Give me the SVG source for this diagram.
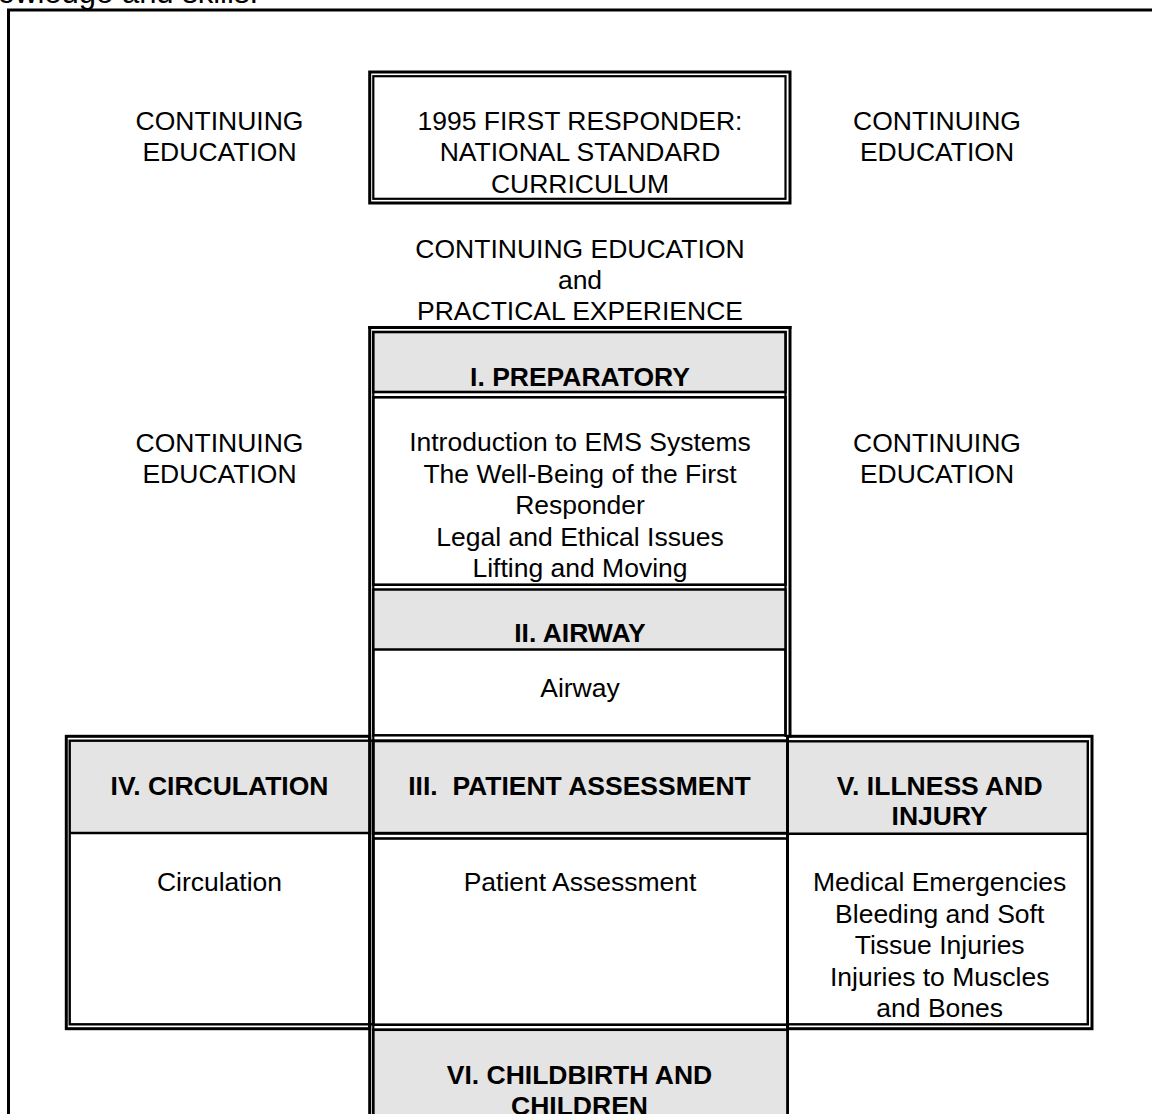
<svg xmlns="http://www.w3.org/2000/svg" width="1152" height="1114" viewBox="0 0 1152 1114">
<style>
.t{font-family:"Liberation Sans",Arial,"Helvetica",sans-serif;font-size:26.5px;text-anchor:middle;fill:#000}
.b{font-weight:bold}
.k{stroke:#000;fill:none}
.o{stroke-width:3}
.i{stroke-width:2.4}
.g{fill:#e4e4e4}
</style>
<rect width="1152" height="1114" fill="#fff"/>
<text class="t" x="258" y="3" style="text-anchor:end;font-size:31px">owledge and skills.</text>
<g id="frame">
<rect class="k o" x="8.5" y="10" width="1170" height="1130"/>
</g>
<g id="title">
<rect class="k o" x="369.7" y="72" width="420.3" height="131"/>
<rect class="k" stroke-width="2.2" x="373.3" y="76.2" width="412.2" height="122.6"/>
<text class="t" x="580" y="130">1995 FIRST RESPONDER:</text>
<text class="t" x="580" y="161">NATIONAL STANDARD</text>
<text class="t" x="580" y="192.5">CURRICULUM</text>
</g>
<g id="ce-top-left"><text class="t" x="219.5" y="130">CONTINUING</text><text class="t" x="219.5" y="161">EDUCATION</text></g>
<g id="ce-top-right"><text class="t" x="937" y="130">CONTINUING</text><text class="t" x="937" y="161">EDUCATION</text></g>
<g id="ce-practical">
<text class="t" x="580" y="258">CONTINUING EDUCATION</text>
<text class="t" x="580" y="289">and</text>
<text class="t" x="580" y="320">PRACTICAL EXPERIENCE</text>
</g>
<g id="ce-mid-left"><text class="t" x="219.5" y="451.5">CONTINUING</text><text class="t" x="219.5" y="483">EDUCATION</text></g>
<g id="ce-mid-right"><text class="t" x="937" y="451.5">CONTINUING</text><text class="t" x="937" y="483">EDUCATION</text></g>
<g id="column">
<line class="k o" x1="368.2" y1="327.5" x2="791.5" y2="327.5"/>
<line class="k o" x1="369.7" y1="326" x2="369.7" y2="1120"/>
<line class="k o" x1="790" y1="326" x2="790" y2="737.5"/>
<line class="k" stroke-width="2.2" x1="373.3" y1="331" x2="373.3" y2="1120"/>
<line class="k" stroke-width="2.3" x1="785.5" y1="331" x2="785.5" y2="737"/>
<line class="k o" x1="787.5" y1="737" x2="787.5" y2="1120"/>
</g>
<g id="preparatory">
<rect class="g" x="373.3" y="332" width="412.2" height="60"/>
<rect class="k" stroke-width="2.6" x="373.3" y="332" width="412.2" height="60"/>
<text class="t b" x="580" y="385.7">I. PREPARATORY</text>
<rect class="k" stroke-width="2.6" x="373.3" y="397.3" width="412.2" height="187.4"/>
<text class="t" x="580" y="451.3">Introduction to EMS Systems</text>
<text class="t" x="580" y="482.8">The Well-Being of the First</text>
<text class="t" x="580" y="514.3">Responder</text>
<text class="t" x="580" y="545.8">Legal and Ethical Issues</text>
<text class="t" x="580" y="577.3">Lifting and Moving</text>
</g>
<g id="airway">
<rect class="g" x="373.3" y="589.5" width="412.2" height="60"/>
<rect class="k" stroke-width="2.5" x="373.3" y="589.5" width="412.2" height="145.8"/>
<line class="k" stroke-width="2.4" x1="373.3" y1="649.5" x2="785.5" y2="649.5"/>
<text class="t b" x="580" y="641.7">II. AIRWAY</text>
<text class="t" x="580" y="697.3">Airway</text>
</g>
<g id="circulation">
<rect class="g" x="70" y="740.7" width="298.5" height="92.3"/>
<rect class="k o" x="66.3" y="736.3" width="303.4" height="292.4"/>
<rect class="k i" x="69.7" y="740.7" width="303.6" height="283.6"/>
<line class="k i" x1="69.7" y1="833" x2="369.7" y2="833"/>
<text class="t b" x="219.5" y="794.5">IV. CIRCULATION</text>
<text class="t" x="219.5" y="891">Circulation</text>
</g>
<g id="assessment">
<rect class="g" x="373.3" y="740.8" width="414.2" height="92.5"/>
<rect class="k" stroke-width="3" x="373.3" y="740.8" width="414.2" height="92.5"/>
<rect class="k" stroke-width="2.6" x="373.3" y="838.5" width="414.2" height="186.2"/>
<text class="t b" x="579.5" y="795" xml:space="preserve">III.  PATIENT ASSESSMENT</text>
<text class="t" x="580" y="891">Patient Assessment</text>
</g>
<g id="illness">
<rect class="g" x="788" y="741.3" width="299.8" height="92.5"/>
<rect class="k o" x="787.5" y="736.3" width="304.5" height="292.4"/>
<rect class="k i" x="787.5" y="741.3" width="300.3" height="283"/>
<line class="k i" x1="787.5" y1="833.8" x2="1087.8" y2="833.8"/>
<text class="t b" x="939.7" y="795">V. ILLNESS AND</text>
<text class="t b" x="939.7" y="825">INJURY</text>
<text class="t" x="939.7" y="891">Medical Emergencies</text>
<text class="t" x="939.7" y="922.5">Bleeding and Soft</text>
<text class="t" x="939.7" y="954">Tissue Injuries</text>
<text class="t" x="939.7" y="985.5">Injuries to Muscles</text>
<text class="t" x="939.7" y="1017">and Bones</text>
</g>
<g id="childbirth">
<rect class="g" x="373.3" y="1029.7" width="414.2" height="100"/>
<rect class="k" stroke-width="2.7" x="373.3" y="1029.7" width="414.2" height="100"/>
<text class="t b" x="579.5" y="1083.5">VI. CHILDBIRTH AND</text>
<text class="t b" x="579.5" y="1115">CHILDREN</text>
</g>
<g id="connectors"></g>
</svg>
